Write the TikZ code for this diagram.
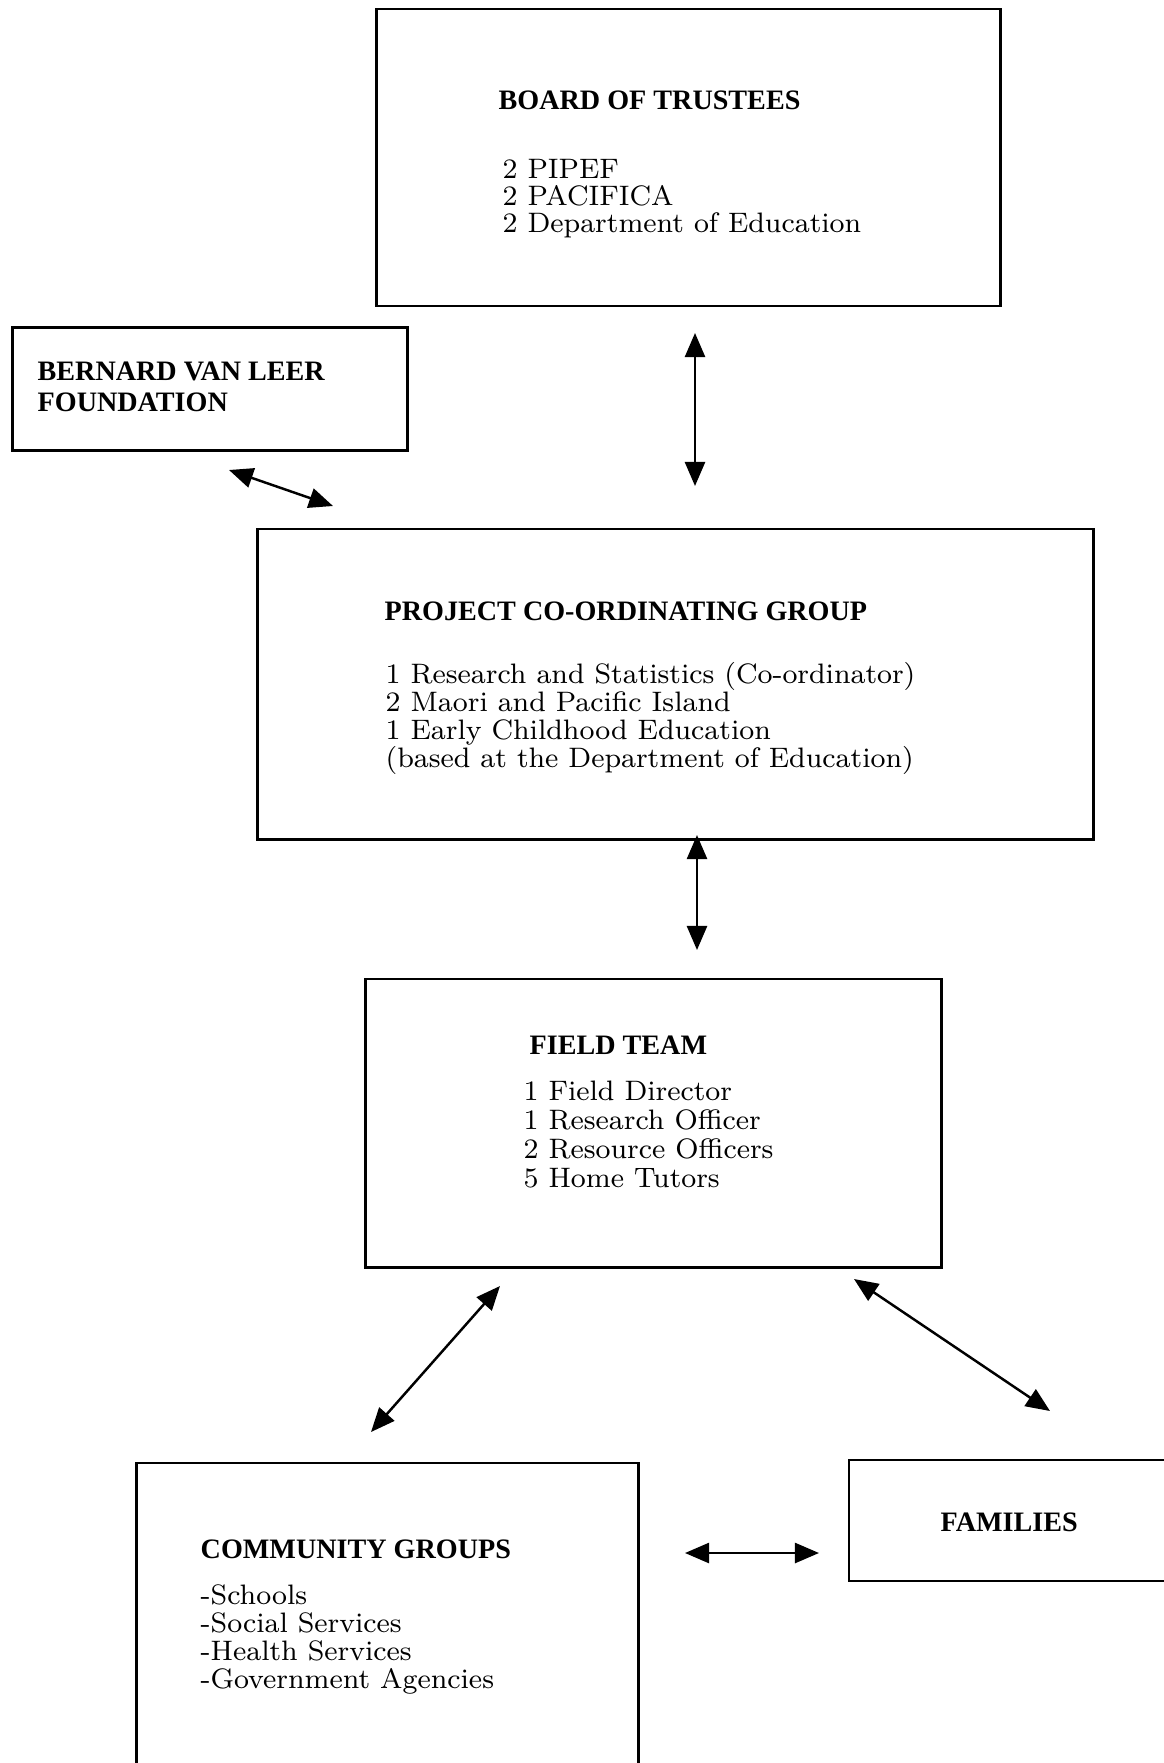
\documentclass[tikz,border=0pt]{standalone}
\usepackage{fontspec}
\newfontfamily\headfont{Liberation Serif}
\usetikzlibrary{arrows.meta}

\tikzset{
	box/.style={draw, line width=0.8pt, inner sep=0pt},
	head/.style={font=\fontsize{8}{8}\selectfont\headfont\bfseries, anchor=base west, inner sep=0pt},
	item/.style={font=\fontsize{8}{8}\selectfont, anchor=base west, inner sep=0pt},
	link/.style={{Triangle[length=0.24cm,width=0.2cm]}-{Triangle[length=0.24cm,width=0.2cm]}, line width=0.7pt},
}

\begin{document}
\begin{tikzpicture}[x=0.01cm, y=-0.01cm]
		\useasboundingbox (0,0) rectangle (1163,1763);

		% boxes
		\node[box, minimum width=6.23cm, minimum height=2.97cm] (board) at (688.5,157.5) {};
		\node[box, minimum width=3.94cm, minimum height=1.23cm] (vanleer) at (210,389) {};
		\node[box, minimum width=8.35cm, minimum height=3.10cm] (pcg) at (675.5,684) {};
		\node[box, minimum width=5.75cm, minimum height=2.88cm] (field) at (653.5,1123) {};
		\node[box, minimum width=5.01cm, minimum height=3.20cm] (community) at (387.5,1623) {};
		\node[box, minimum width=3.21cm, minimum height=1.21cm] (families) at (1009.5,1520.5) {};

		% board of trustees
		\node[head] (board-t) at (498,109) {BOARD OF TRUSTEES};
		\foreach \t [count=\i] in {{2 PIPEF}, {2 PACIFICA}, {2 Department of Education}}
			\node[item] (board-\i) at (502,151+27*\i) {\t};

		% van leer
		\node[head] (vanleer-1) at (37,380) {BERNARD VAN LEER};
		\node[head] (vanleer-2) at (37,411) {FOUNDATION};

		% co-ordinating group
		\node[head] (pcg-t) at (384,620) {PROJECT CO-ORDINATING GROUP};
		\foreach \t [count=\i] in {{1 Research and Statistics (Co-ordinator)}, {2 Maori and Pacific Island}, {1 Early Childhood Education}, {(based at the Department of Education)}}
			\node[item] (pcg-\i) at (385,655+28*\i) {\t};

		% field team
		\node[head] (field-t) at (529,1054) {FIELD TEAM};
		\foreach \t [count=\i] in {{1 Field Director}, {1 Research Officer}, {2 Resource Officers}, {5 Home Tutors}}
			\node[item] (field-\i) at (523,1071+29*\i) {\t};

		% community groups
		\node[head] (community-t) at (200,1558) {COMMUNITY GROUPS};
		\foreach \t [count=\i] in {{-Schools}, {-Social Services}, {-Health Services}, {-Government Agencies}}
			\node[item] (community-\i) at (200,1576+28*\i) {\t};

		% families
		\node[head] (families-t) at (940,1531) {FAMILIES};

		% arrows
		\coordinate (a1) at (695,333);
		\coordinate (a2) at (695,486);
		\coordinate (b1) at (229,470);
		\coordinate (b2) at (333,506);
		\coordinate (c1) at (697,835);
		\coordinate (c2) at (697,950);
		\coordinate (d1) at (500,1286);
		\coordinate (d2) at (371,1432);
		\coordinate (e1) at (854,1279);
		\coordinate (e2) at (1050,1411);
		\coordinate (f1) at (685,1553);
		\coordinate (f2) at (819,1553);
		\draw[link] (a1) -- (a2);
		\draw[link] (b1) -- (b2);
		\draw[link] (c1) -- (c2);
		\draw[link] (d1) -- (d2);
		\draw[link] (e1) -- (e2);
		\draw[link] (f1) -- (f2);
	\end{tikzpicture}
\end{document}
